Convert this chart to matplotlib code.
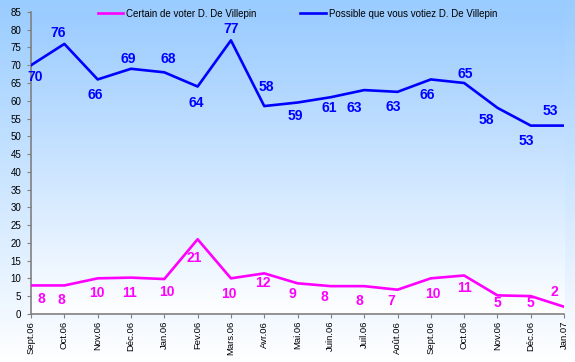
import numpy as np
import matplotlib
matplotlib.use('Agg')
import matplotlib.pyplot as plt

plt.rcParams['font.family'] = ['Liberation Sans', 'DejaVu Sans']

months = ['Sept.06', 'Oct.06', 'Nov.06', 'Déc.06', 'Jan.06', 'Fev.06', 'Mars.06',
          'Avr.06', 'Mai.06', 'Juin.06', 'Juil.06', 'Août.06', 'Sept.06', 'Oct.06',
          'Nov.06', 'Déc.06', 'Jan.07']
certain = [8, 8, 10, 10.2, 9.8, 21, 10, 11.4, 8.6, 7.8, 7.8, 6.8, 10, 10.8, 5.2, 5, 2]
certain_labels = [8, 8, 10, 11, 10, 21, 10, 12, 9, 8, 8, 7, 10, 11, 5, 5, 2]
possible = [70, 76, 66, 69, 68, 64, 77, 58.5, 59.5, 61, 63, 62.5, 66, 65, 58, 53, 53]
possible_labels = [70, 76, 66, 69, 68, 64, 77, 58, 59, 61, 63, 63, 66, 65, 58, 53, 53]

# label offsets in pixels (dx, dy), dy>0 is up
certain_off = [(10, -14), (-3, -15), (-1, -15), (-1, -15), (3, -13), (-3, -19),
               (-2, -16), (-1, -10), (-5, -11), (-7, -11), (-5, -15), (-6, -11),
               (2, -16), (0, -13), (0, -8), (0, -7), (-10, 15)]
possible_off = [(4, -12), (-6, 11), (-2, -16), (-3, 10), (4, 13), (-1, -16),
                (0, 11), (2, 19), (-2, -13), (-2, -11), (-10, -18), (-4, -15),
                (-4, -16), (1, 9), (-11, -12), (-4, -15), (-14, 15)]

BLUE = '#0000ff'
MAGENTA = '#ff00ff'

fig = plt.figure(figsize=(5.75, 3.62), dpi=100)

# chart background gradient
bg = fig.add_axes([0, 0, 1, 1], zorder=-10)
grad = np.linspace(0, 1, 256)
top = np.array([0.60, 0.80, 1.0])
img = top + (1 - top) * grad[:, None, None]
bg.imshow(img, aspect='auto', extent=[0, 1, 0, 1], origin='upper')
bg.axis('off')

ax = fig.add_axes([0.054, 0.133, 0.927, 0.834])
ax.patch.set_alpha(0)
x = np.arange(len(months))

# plot area gradient
ptop = np.array([0.61, 0.80, 1.0])
pimg = ptop + (1 - ptop) * (grad ** 1.1)[:, None, None]
ax.imshow(pimg, aspect='auto', extent=[0, len(months) - 1, 0, 85], origin='upper', zorder=0)

ax.plot(x, certain, color=MAGENTA, lw=1.9, zorder=3, solid_joinstyle='round',
        label='Certain de voter D. De Villepin')
ax.plot(x, possible, color=BLUE, lw=1.9, zorder=3, solid_joinstyle='round',
        label='Possible que vous votiez D. De Villepin')

for xi, v, lab, (dx, dy) in zip(x, certain, certain_labels, certain_off):
    ax.annotate(str(lab), (xi, v), xytext=(dx * 0.72, dy * 0.72), textcoords='offset points',
                ha='center', va='center', color=MAGENTA, fontsize=10, fontweight='bold', zorder=4)
for xi, v, lab, (dx, dy) in zip(x, possible, possible_labels, possible_off):
    ax.annotate(str(lab), (xi, v), xytext=(dx * 0.72, dy * 0.72), textcoords='offset points',
                ha='center', va='center', color=BLUE, fontsize=10, fontweight='bold', zorder=4)

ax.set_xlim(0, len(months) - 1)
ax.set_ylim(0, 85)
ax.set_yticks(np.arange(0, 86, 5))
ax.set_xticks(x)
ax.set_xticklabels(months, rotation=90, fontsize=6.8)
ax.tick_params(axis='y', labelsize=7, colors='#808080', labelcolor='black', length=3, pad=4)
ax.tick_params(axis='x', colors='#808080', labelcolor='black', length=3, pad=2)
for s in ['top', 'right']:
    ax.spines[s].set_visible(False)
for s in ['left', 'bottom']:
    ax.spines[s].set_color('#808080')
    ax.spines[s].set_linewidth(1.2)

ax.legend(loc='upper center', bbox_to_anchor=(0.5, 1.04), ncol=2, frameon=False,
          fontsize=7, handlelength=2.6, columnspacing=4.5, handletextpad=0.3)

fig.savefig('out.png', dpi=100)
